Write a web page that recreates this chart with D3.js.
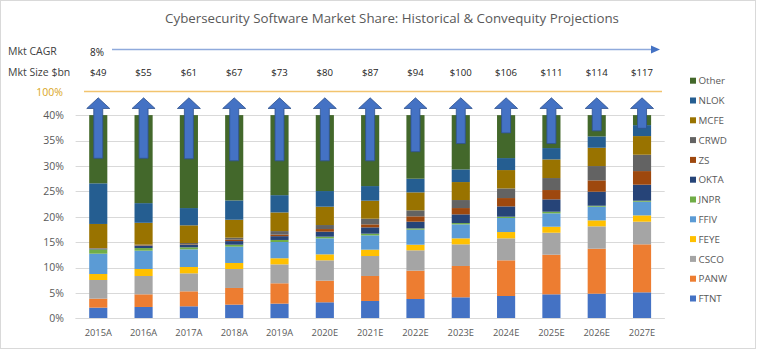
<!DOCTYPE html>
<html><head><meta charset="utf-8">
<script src="https://cdn.jsdelivr.net/npm/d3@7"></script>
<style>body{margin:0;background:#fff}svg{display:block;font-family:"Open Sans",sans-serif}</style>
</head><body><svg id="c" width="759" height="350"></svg>
<script>
const years = ["2015A","2016A","2017A","2018A","2019A","2020E","2021E","2022E","2023E","2024E","2025E","2026E","2027E"];
const mktSize = [49,55,61,67,73,80,87,94,100,106,111,114,117];
const mktCagr = "8%";
const seriesNames = ["FTNT","PANW","CSCO","FEYE","FFIV","JNPR","OKTA","ZS","CRWD","MCFE","NLOK","Other"];
const FTNT  = [2.1,2.23,2.36,2.69,2.89,3.15,3.41,3.8,4.13,4.39,4.72,4.85,5.11];
const PANW  = [1.77,2.49,2.95,3.28,4.0,4.26,4.92,5.58,6.17,7.02,7.8,8.85,9.45];
const CSCO  = [3.67,3.61,3.54,3.73,3.73,4.0,3.93,4.0,4.26,4.33,4.33,4.4,4.46];
const FEYE  = [1.18,1.38,1.25,1.19,1.2,1.18,1.25,1.11,1.18,1.24,1.18,1.18,1.24];
const FFIV  = [4.0,3.6,3.47,3.21,3.2,3.15,2.82,2.95,2.75,2.76,2.63,2.69,2.69];
const JNPR  = [0.85,0.52,0.4,0.39,0.4,0.33,0.33,0.26,0.26,0.26,0.32,0.19,0.2];
const OKTA  = [0.12,0.45,0.46,0.71,0.75,0.98,1.24,1.32,1.71,2.03,2.43,2.76,3.15];
const ZS    = [0.05,0.1,0.1,0.28,0.3,0.52,0.59,1.05,1.24,1.64,1.84,2.23,2.68];
const CRWD  = [0.08,0.12,0.29,0.39,0.7,0.79,1.12,1.18,1.58,1.9,2.36,2.82,3.22];
const MCFE  = [4.75,4.3,3.48,3.53,3.67,3.61,3.54,3.54,3.54,3.61,3.67,3.6,3.67];
const NLOK  = [8.0,3.87,3.4,3.8,3.4,3.08,2.88,2.69,2.49,2.36,2.23,2.23,2.16];
const Other = [13.43,17.33,18.3,16.8,15.76,14.95,13.97,12.52,10.69,8.45,6.49,4.2,1.97];
const arrowBase = [31.5,31.5,31.4,31.0,31.0,31.0,31.0,32.8,34.4,36.5,34.4,36.9,37.4];
const yTicks = [0,5,10,15,20,25,30,35,40];
const colors = ["#4472C4","#ED7D31","#A5A5A5","#FFC000","#5B9BD5","#70AD47","#264478","#9E480E","#636363","#997300","#255E91","#43682B"];

const seriesVals = {FTNT,PANW,CSCO,FEYE,FFIV,JNPR,OKTA,ZS,CRWD,MCFE,NLOK,Other};
const table = years.map((y,i)=>{const o={year:y};seriesNames.forEach(s=>o[s]=seriesVals[s][i]);return o;});

const svg = d3.select("#c");
const txt = "#595959";
svg.append("rect").attr("x",0.5).attr("y",0.5).attr("width",755).attr("height",348).attr("fill","#fff").attr("stroke","#D9D9D9");

const x = d3.scaleBand().domain(years).range([75.6,664.7]).paddingInner(0.6).paddingOuter(0.3);
const y = d3.scaleLinear().domain([0,40]).range([318.3,115.1]);

// title
const title = svg.append("text").attr("x",392).attr("y",23).attr("text-anchor","middle")
  .attr("fill",txt).attr("font-size",14).text("Cybersecurity Software Market Share: Historical & Convequity Projections");
const tw = title.node().getComputedTextLength();
title.attr("font-size",14*454/tw);

// grid
svg.append("g").selectAll("line").data(yTicks).join("line")
  .attr("x1",75.6).attr("x2",664.7).attr("y1",d=>Math.round(y(d))+0.5).attr("y2",d=>Math.round(y(d))+0.5)
  .attr("stroke","#D9D9D9").attr("stroke-width",1);

// y axis labels
const yAxis = d3.axisLeft(y).tickValues(yTicks).tickFormat(d=>d+"%").tickSize(0).tickPadding(0);
const ya = svg.append("g").attr("transform","translate(64,0)").call(yAxis);
ya.select(".domain").remove();
ya.selectAll("text").attr("fill",txt).attr("font-size",10.5).attr("font-family","Open Sans");

// x axis labels
const xAxis = d3.axisBottom(x).tickSize(0).tickPadding(0);
const xa = svg.append("g").attr("transform","translate(0,329)").call(xAxis);
xa.select(".domain").remove();
xa.selectAll("text").attr("fill",txt).attr("font-size",9.3).attr("font-family","Open Sans");

// stacked bars
const stack = d3.stack().keys(seriesNames)(table);
svg.append("g").selectAll("g").data(stack).join("g").attr("fill",(d,i)=>colors[i])
  .selectAll("rect").data(d=>d).join("rect")
  .attr("x",d=>x(d.data.year)).attr("width",x.bandwidth())
  .attr("y",d=>y(Math.min(d[1],40))).attr("height",d=>Math.max(0,y(d[0])-y(Math.min(d[1],40))));

// baseline
svg.append("line").attr("x1",75.6).attr("x2",664.7).attr("y1",318.5).attr("y2",318.5).attr("stroke","#D9D9D9");

// arrows
const tipV = 43.4, headV = 41.3, headW = 11.5, shaftW = 4.5;
svg.append("g").selectAll("path").data(years).join("path")
  .attr("d",(d,i)=>{
    const cx = x(d)+x.bandwidth()/2, t=y(tipV), h=y(headV), b=y(arrowBase[i]);
    return `M${cx},${t}L${cx+headW},${h}L${cx+shaftW},${h}L${cx+shaftW},${b}L${cx-shaftW},${b}L${cx-shaftW},${h}L${cx-headW},${h}Z`;
  })
  .attr("fill","#4472C4").attr("stroke","#2F528F").attr("stroke-width",0.8);

// header rows
svg.append("text").attr("x",8).attr("y",55).attr("fill","#404040").attr("font-size",10.5).text("Mkt CAGR");
svg.append("text").attr("x",90).attr("y",56).attr("fill","#222").attr("font-size",10).text(mktCagr);
svg.append("line").attr("x1",112).attr("x2",652).attr("y1",49.5).attr("y2",49.5).attr("stroke","#8FAADC").attr("stroke-width",1.3);
svg.append("path").attr("d","M651,45.5L660,49.5L651,53.5Z").attr("fill","#4472C4");

svg.append("text").attr("x",8).attr("y",76).attr("fill","#404040").attr("font-size",10.5).text("Mkt Size $bn");
svg.append("g").selectAll("text").data(mktSize).join("text")
  .attr("x",(d,i)=>x(years[i])+x.bandwidth()/2).attr("y",76).attr("text-anchor","middle")
  .attr("fill","#222").attr("font-size",9.6).text(d=>"$"+d);

svg.append("text").attr("x",63).attr("y",96).attr("text-anchor","end").attr("fill","#D9A520").attr("font-size",10.5).text("100%");
svg.append("line").attr("x1",84).attr("x2",662).attr("y1",91.5).attr("y2",91.5).attr("stroke","#F2C46E").attr("stroke-width",1.3);

// legend
const leg = svg.append("g").selectAll("g").data(seriesNames.slice().reverse()).join("g")
  .attr("transform",(d,i)=>`translate(690,${80.7+i*19.8})`);
leg.append("rect").attr("x",0).attr("y",-3).attr("width",6).attr("height",6)
  .attr("fill",d=>colors[seriesNames.indexOf(d)]);
leg.append("text").attr("x",8.5).attr("y",3.6).attr("fill",txt).attr("font-size",9.8).text(d=>d);
</script></body></html>
